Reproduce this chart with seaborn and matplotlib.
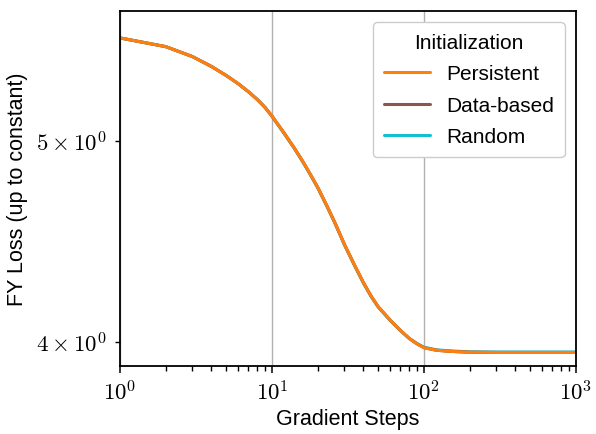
import numpy as np
import pandas as pd
import matplotlib
matplotlib.use("Agg")
import matplotlib.pyplot as plt
import matplotlib.ticker as mticker
import seaborn as sns

# Gradient steps at which the loss was recorded
steps = [1, 2, 3, 4, 5, 6, 7, 8, 9, 10, 12, 14, 16, 18, 20, 23, 26, 30, 35, 40, 45,
         50, 60, 70, 80, 90, 100, 120, 140, 170, 200, 300, 500, 1000]

# FY loss (up to a constant) for each initialization scheme
loss_persistent = [5.606, 5.552, 5.491, 5.431, 5.377, 5.328, 5.281, 5.236, 5.190, 5.140,
                   5.045, 4.962, 4.886, 4.814, 4.749, 4.652, 4.565, 4.457, 4.355, 4.272,
                   4.208, 4.160, 4.098, 4.052, 4.016, 3.992, 3.975, 3.964, 3.960, 3.957,
                   3.955, 3.954, 3.954, 3.954]
loss_databased = [5.606, 5.552, 5.491, 5.431, 5.377, 5.328, 5.281, 5.236, 5.190, 5.140,
                  5.045, 4.962, 4.886, 4.814, 4.749, 4.652, 4.565, 4.457, 4.355, 4.272,
                  4.208, 4.160, 4.098, 4.052, 4.016, 3.992, 3.975, 3.964, 3.960, 3.957,
                  3.955, 3.954, 3.954, 3.954]
loss_random = [5.606, 5.552, 5.491, 5.431, 5.377, 5.328, 5.281, 5.236, 5.190, 5.139,
               5.043, 4.960, 4.884, 4.812, 4.747, 4.650, 4.563, 4.455, 4.353, 4.270,
               4.206, 4.158, 4.097, 4.051, 4.016, 3.993, 3.977, 3.966, 3.962, 3.959,
               3.957, 3.956, 3.956, 3.956]

series_names = ["Persistent", "Data-based", "Random"]
series_colors = ["#ff7f0e", "#8c564b", "#17becf"]

df = pd.DataFrame({
    "step": steps * 3,
    "loss": loss_persistent + loss_databased + loss_random,
    "init": [n for n in series_names for _ in steps],
})

sns.set_style("ticks")
plt.rcParams["font.family"] = ["Liberation Sans", "DejaVu Sans"]
plt.rcParams["mathtext.fontset"] = "cm"
plt.rcParams["text.color"] = "black"
plt.rcParams["axes.labelcolor"] = "black"
plt.rcParams["xtick.color"] = "black"
plt.rcParams["ytick.color"] = "black"

fig = plt.figure(figsize=(5.96, 4.35), dpi=100)
ax = fig.add_axes([0.2013, 0.1563, 0.7651, 0.8161])

# draw Random first so Persistent ends up on top
for name, color in reversed(list(zip(series_names, series_colors))):
    sub = df[df["init"] == name]
    sns.lineplot(data=sub, x="step", y="loss", color=color, lw=2.2, ax=ax, label=name)

ax.set_xscale("log")
ax.set_yscale("log")
ax.set_xlim(1, 1000)
ax.set_ylim(3.895, 5.776)

ax.xaxis.set_major_formatter(mticker.FuncFormatter(lambda v, p: r"$10^{%d}$" % round(np.log10(v))))
ax.yaxis.set_major_locator(mticker.NullLocator())
ax.yaxis.set_minor_locator(mticker.FixedLocator([4, 5]))
ax.yaxis.set_minor_formatter(mticker.FuncFormatter(lambda v, p: r"$%d\times10^{0}$" % round(v)))

ax.tick_params(axis="both", which="major", labelsize=16.5, length=5, width=1.1,
               color="black", labelcolor="black")
ax.tick_params(axis="both", which="minor", labelsize=16.5, length=3.5, width=1.0,
               color="black", labelcolor="black")
ax.tick_params(axis="y", which="minor", pad=6)
ax.tick_params(axis="x", which="major", pad=5)

ax.grid(True, axis="x", which="major", color="#b0b0b0", lw=1)
ax.grid(False, axis="y")
for s in ax.spines.values():
    s.set_visible(True)
    s.set_color("black")
    s.set_linewidth(1.3)

ax.set_xlabel("Gradient Steps", fontsize=15.5, labelpad=3, color="black")
ax.set_ylabel("FY Loss (up to constant)", fontsize=15.5, labelpad=6, color="black")

h, l = ax.get_legend_handles_labels()
order = [l.index(n) for n in series_names]
leg = ax.legend([h[i] for i in order], [l[i] for i in order], title="Initialization",
                loc="upper right", fontsize=15, title_fontsize=15, frameon=True,
                fancybox=True, edgecolor="#cccccc", framealpha=1.0,
                handlelength=2.2, borderpad=0.5, labelspacing=0.6, handletextpad=0.8,
                borderaxespad=0.55)
leg.get_title().set_color("black")
for t in leg.get_texts():
    t.set_color("black")

fig.savefig("out.png", dpi=100)
